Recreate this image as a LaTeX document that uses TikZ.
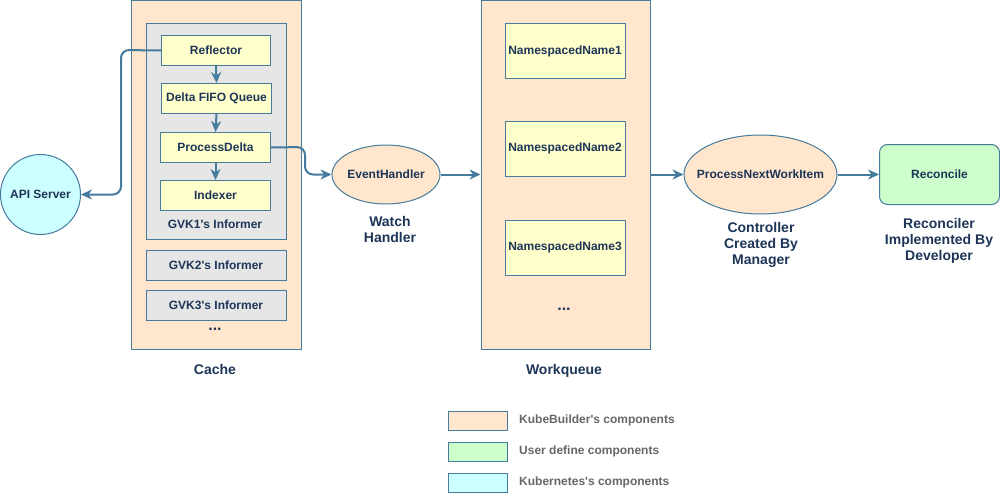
\documentclass[tikz,border=0pt]{standalone}
\usepackage{fontspec}
\setmainfont{Liberation Sans}[Ligatures=TeXOff]
\usetikzlibrary{arrows.meta,shapes.geometric}
\definecolor{strk}{HTML}{457B9D}
\definecolor{txt}{HTML}{1D3557}
\definecolor{orangef}{HTML}{FFE6CC}
\definecolor{yellowf}{HTML}{FFFFCC}
\definecolor{grayf}{HTML}{E6E6E6}
\definecolor{greenf}{HTML}{CCFFCC}
\definecolor{cyanf}{HTML}{CCFFFF}
\definecolor{legtxt}{HTML}{666666}
\tikzset{
  base/.style={draw=strk, line width=1pt, text=txt, font=\fontsize{12}{14}\selectfont\bfseries, inner sep=0pt},
  container/.style={base, fill=orangef, anchor=north west},
  informer/.style={base, fill=grayf, anchor=north west},
  ybox/.style={base, fill=yellowf, anchor=north west},
  oval/.style={base, ellipse, fill=orangef},
  cap14/.style={text=txt, font=\fontsize{14}{16}\selectfont\bfseries, align=center, inner sep=0pt},
  lbl/.style={text=txt, font=\fontsize{12}{14}\selectfont\bfseries, inner sep=0pt},
  dots/.style={text=txt, font=\fontsize{16}{18}\selectfont\bfseries, inner sep=0pt},
  conn/.style={draw=strk, line width=2pt, -{Stealth[length=11pt,width=10pt,inset=3.5pt]}, rounded corners=8pt},
  sconn/.style={draw=strk, line width=2pt, -{Stealth[length=11pt,width=10pt,inset=3.5pt]}},
  legbox/.style={draw=strk, line width=1pt, anchor=north west, minimum width=59pt, minimum height=19pt},
  legtext/.style={text=legtxt, font=\fontsize{12}{14}\selectfont\bfseries, anchor=west, inner sep=0pt}
}
\begin{document}
\begin{tikzpicture}[x=1pt,y=-1pt]
\useasboundingbox (0,0) rectangle (1000,492);
% Cache
\node[container, minimum width=170pt, minimum height=348pt] (cache) at (130.5,0.5) {};
\node[informer, minimum width=140pt, minimum height=215pt] (gvk1) at (145.5,23.5) {};
\node[ybox, minimum width=109pt, minimum height=30pt] (refl) at (161,35) {Reflector};
\node[ybox, minimum width=110pt, minimum height=30pt] (fifo) at (161,83) {Delta FIFO Queue};
\node[ybox, minimum width=110pt, minimum height=30pt] (pdelta) at (160,132) {ProcessDelta};
\node[ybox, minimum width=110pt, minimum height=30pt] (idx) at (160,180) {Indexer};
\node[lbl] (gvk1l) at (215,224) {GVK1's Informer};
\node[informer, minimum width=140pt, minimum height=30pt] (gvk2) at (145.5,249.5) {GVK2's Informer};
\node[informer, minimum width=140pt, minimum height=30pt] (gvk3) at (145.5,289.5) {GVK3's Informer};
\node[dots] (cdots) at (215,329) {...};
\node[cap14, anchor=base] (cachel) at (215,374) {Cache};
% API server
\node[base, circle, fill=cyanf, minimum size=80pt] (api) at (40.5,194.5) {API Server};
% Event handler
\node[oval, minimum width=108pt, minimum height=59pt] (eh) at (386,174.5) {\makebox[0pt]{EventHandler}};
\node[cap14] (ehl) at (390,229) {Watch\\Handler};
% Workqueue
\node[container, minimum width=169pt, minimum height=348pt] (wq) at (480.5,0.5) {};
\node[ybox, minimum width=120pt, minimum height=55pt] (ns1) at (504.5,23.5) {NamespacedName1};
\node[ybox, minimum width=120pt, minimum height=55pt] (ns2) at (504.5,120.5) {NamespacedName2};
\node[ybox, minimum width=120pt, minimum height=55pt] (ns3) at (504.5,219.5) {NamespacedName3};
\node[dots] (wdots) at (564,309) {...};
\node[cap14, anchor=base] (wql) at (564,374) {Workqueue};
% Controller
\node[oval, minimum width=153pt, minimum height=79pt] (pnwi) at (760.5,174.5) {\makebox[0pt]{ProcessNextWorkItem}};
\node[cap14] (ctrll) at (761,245) {Controller\\Created By\\Manager};
% Reconcile
\node[base, fill=greenf, rounded corners=8pt, minimum width=120pt, minimum height=60pt] (rec) at (939.5,174.5) {Reconcile};
\node[cap14] (recl) at (939,241) {Reconciler\\Implemented By\\Developer};
% connectors
\draw[sconn] (refl.south) -- (fifo.north);
\draw[sconn] (fifo.south) -- (pdelta.north);
\draw[sconn] (pdelta.south) -- (idx.north);
\draw[conn] (refl.west) -- (121,50) -- (121,194.5) -- (api.east);
\draw[conn] (pdelta.east) -- (305,147) -- (305,174.5) -- (eh.west);
\draw[conn] (eh.east) -- (wq.west |- eh.east);
\draw[conn] (wq.east |- pnwi.west) -- (pnwi.west);
\draw[conn] (pnwi.east) -- (rec.west);
% legend
\node[legbox, fill=orangef] (lg1) at (447.5,410.5) {};
\node[legbox, fill=greenf] (lg2) at (447.5,441.5) {};
\node[legbox, fill=cyanf] (lg3) at (447.5,472.5) {};
\node[legtext] (lt1) at (519,420) {KubeBuilder's components};
\node[legtext] (lt2) at (519,451) {User define components};
\node[legtext] (lt3) at (519,482) {Kubernetes's components};
\end{tikzpicture}
\end{document}
